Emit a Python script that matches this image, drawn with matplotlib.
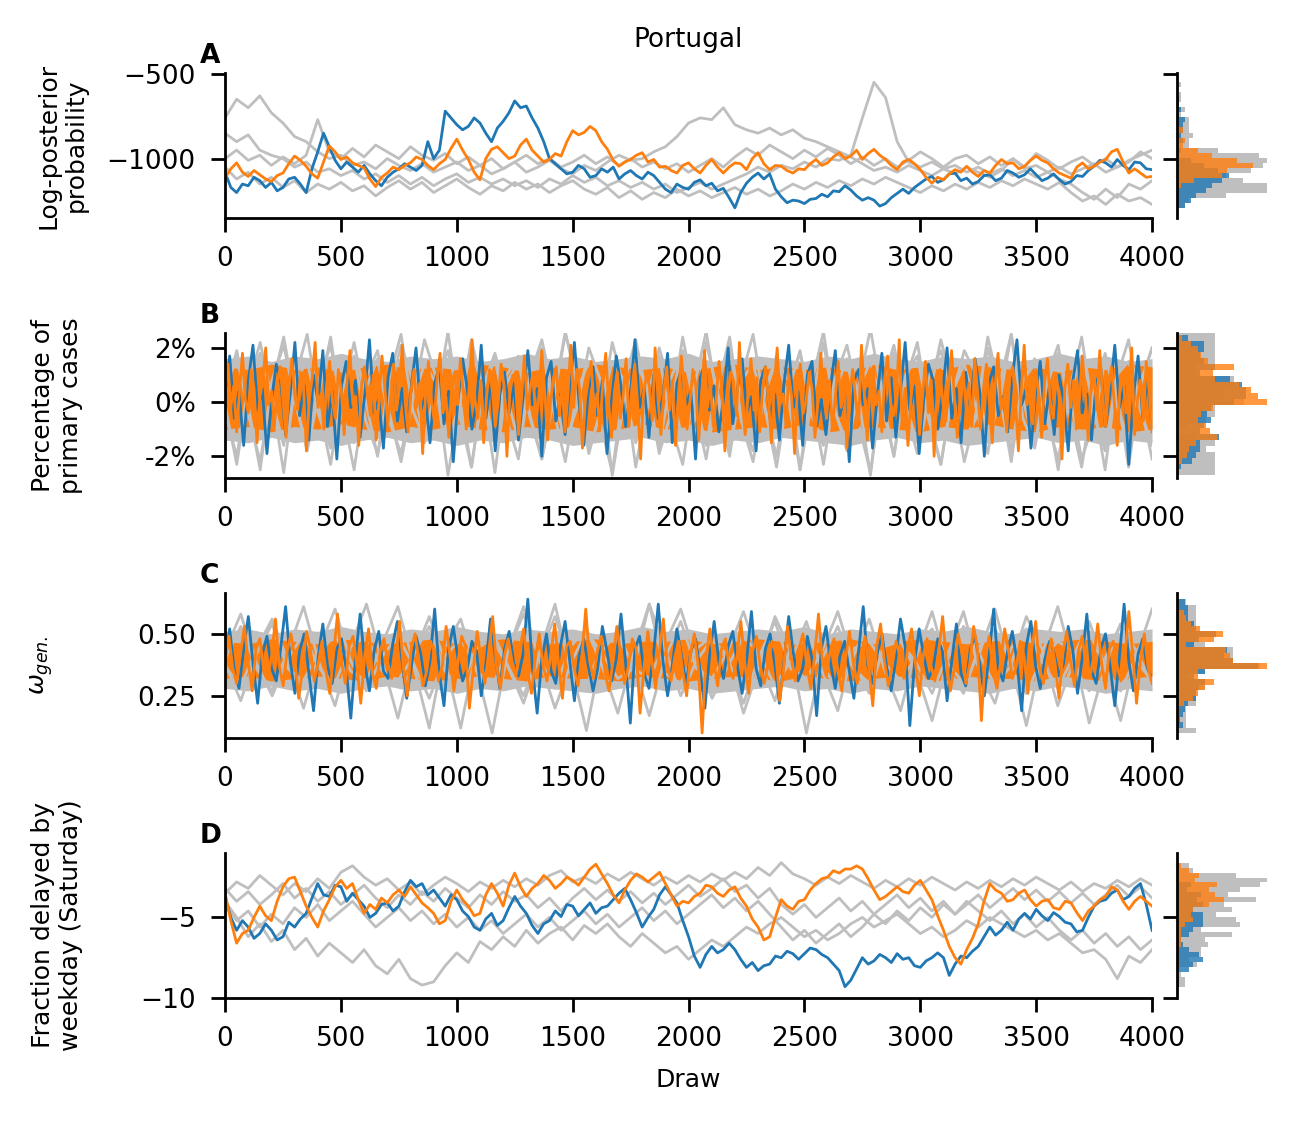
import matplotlib
matplotlib.use("Agg")
import matplotlib.pyplot as plt
import numpy as np

N_DRAWS = 4000
GREY = "#bfbfbf"

# ---- panel A: log-posterior probability ----
# grey chains read every 50 draws, highlighted chains every 25 draws
a_grey = [
    [-760, -650, -700, -630, -730, -790, -870, -900, -960, -1000,
     -980, -1040, -1020, -1060, -1000, -1040, -1070, -1030, -1080, -1050,
     -1020, -1070, -1040, -1090, -1060, -1020, -1080, -1050, -1010, -1060,
     -1090, -1040, -1070, -1020, -980, -1010, -1000, -960, -930, -870,
     -790, -760, -770, -700, -800, -830, -850, -820, -860, -830,
     -880, -900, -930, -960, -990, -1030, -1070, -1050, -1080, -1040,
     -1070, -1100, -1060, -1090, -1050, -1080, -1110, -1070, -1000, -1060,
     -1040, -1080, -1050, -1090, -1060, -1030, -1080, -1050, -1020, -960, -1000],
    [-850, -900, -860, -950, -980, -1000, -1050, -1020, -1080, -1060,
     -1100, -1070, -1120, -1090, -1140, -1100, -1150, -1110, -1160, -1120,
     -1090, -1140, -1110, -1150, -1120, -1160, -1130, -1170, -1120, -1150,
     -1100, -1140, -1110, -1160, -1130, -1170, -1140, -1180, -1150, -1200,
     -1170, -1140, -1180, -1150, -1120, -1090, -1050, -1080, -1040, -1060,
     -1020, -1050, -1000, -1010, -980, -760, -550, -640, -900, -1020,
     -1050, -1020, -1060, -1040, -1080, -1050, -1090, -1060, -1100, -1070,
     -1110, -1080, -1120, -1150, -1200, -1240, -1180, -1230, -1150, -1180, -1130],
    [-1000, -950, -1010, -980, -1040, -990, -1030, -980, -770, -960,
     -1000, -940, -990, -920, -960, -1000, -930, -980, -1010, -970,
     -1030, -990, -1040, -1000, -1060, -1020, -980, -1030, -1000, -1050,
     -1020, -980, -1030, -990, -1040, -1000, -1050, -1020, -1060, -1030,
     -1080, -1040, -1000, -1050, -990, -940, -980, -920, -960, -1000,
     -950, -990, -940, -980, -1030, -990, -1040, -1000, -1050, -1010,
     -960, -1000, -1050, -1000, -980, -1030, -990, -1040, -1000, -1050,
     -970, -1010, -1060, -1020, -990, -1040, -1000, -1050, -1010, -980, -950],
    [-1050, -1120, -1080, -1150, -1110, -1170, -1130, -1200, -1150, -1180,
     -1140, -1190, -1160, -1220, -1170, -1130, -1180, -1140, -1200, -1160,
     -1120, -1170, -1210, -1160, -1190, -1140, -1180, -1150, -1200, -1160,
     -1130, -1180, -1210, -1170, -1230, -1190, -1240, -1200, -1230, -1180,
     -1220, -1190, -1230, -1200, -1170, -1210, -1180, -1220, -1190, -1150,
     -1180, -1140, -1170, -1130, -1160, -1120, -1150, -1110, -1140, -1170,
     -1200, -1160, -1190, -1150, -1180, -1140, -1170, -1130, -1160, -1120,
     -1150, -1180, -1140, -1200, -1250, -1220, -1270, -1210, -1250, -1230, -1270],
]
a_blue = [
    -1080, -1170, -1200, -1150, -1160, -1110, -1130, -1170, -1140, -1190,
    -1170, -1120, -1110, -1150, -1200, -1060, -960, -850, -930, -1010,
    -1060, -1020, -1050, -1080, -1040, -1090, -1130, -1160, -1110, -1080,
    -1060, -1030, -1050, -1070, -1040, -900, -1000, -950, -720, -760,
    -800, -830, -810, -760, -790, -850, -900, -820, -780, -730,
    -660, -700, -690, -760, -820, -900, -1000, -1030, -1060, -1090,
    -1080, -1040, -1060, -1110, -1100, -1060, -1080, -1050, -1120, -1090,
    -1070, -1100, -1120, -1080, -1100, -1140, -1180, -1200, -1150, -1170,
    -1180, -1140, -1125, -1160, -1145, -1190, -1175, -1230, -1290, -1200,
    -1145, -1110, -1085, -1120, -1090, -1180, -1225, -1260, -1245, -1250,
    -1265, -1240, -1235, -1210, -1225, -1190, -1195, -1160, -1185, -1220,
    -1245, -1230, -1245, -1280, -1265, -1230, -1205, -1180, -1205, -1170,
    -1145, -1120, -1105, -1140, -1125, -1090, -1085, -1130, -1115, -1150,
    -1135, -1100, -1095, -1130, -1115, -1070, -1085, -1110, -1095, -1060,
    -1095, -1130, -1115, -1090, -1125, -1150, -1135, -1100, -1105, -1070,
    -1045, -1010, -1025, -1050, -1005, -1040, -1065, -1020, -1025, -1060,
    -1065,
]
a_orange = [
    -1115, -1060, -1025, -1080, -1105, -1070, -1095, -1120, -1135, -1100,
    -1085, -1030, -985, -1010, -1045, -1090, -1115, -1020, -925, -960,
    -1005, -990, -1025, -1040, -1055, -1120, -1165, -1110, -1085, -1050,
    -1065, -1040, -1025, -990, -1005, -1040, -1065, -1030, -1005, -940,
    -885, -950, -1005, -1080, -1125, -1000, -945, -930, -965, -1000,
    -985, -920, -885, -950, -985, -1020, -1005, -970, -985, -900,
    -835, -860, -845, -810, -835, -900, -945, -1010, -1045, -1020,
    -1005, -980, -965, -1020, -1005, -1050, -1045, -1070, -1085, -1040,
    -1025, -1060, -1085, -1040, -1005, -1050, -1085, -1050, -1025, -1030,
    -1065, -1000, -965, -1030, -1065, -1040, -1045, -1070, -1085, -1060,
    -1065, -1030, -1005, -1040, -1025, -990, -965, -1000, -985, -950,
    -1005, -970, -945, -980, -1005, -1040, -1065, -1020, -1005, -1030,
    -1065, -1110, -1145, -1110, -1125, -1090, -1065, -1080, -1045, -1080,
    -1105, -1070, -1085, -1040, -1005, -1030, -1025, -1060, -1045, -1010,
    -985, -1010, -1025, -1060, -1085, -1100, -1115, -1050, -1025, -1060,
    -1045, -1020, -1005, -960, -945, -1020, -1085, -1060, -1085, -1110,
    -1105,
]

# ---- panel B: percentage of primary cases (in tenths of a percent) ----
b_grey = [
    [3, 19, -5, -22, 6, 24, 0, -17, 8, 21, -3, -25, 5, 16, -7, -19, 2, 23, 9, -14,
     -1, 20, 4, -26, 7, 15, -6, -21, 1, 25, 10, -18, -4, 22, 5, -15, 3, 17, -8, -23,
     6, 26, 0, -20, 8, 14, -2, -24, 4, 19, -5, -16, 9, 21, 1, -27, 7, 18, -3, -19,
     2, 23, 6, -14, -6, 20, 3, -22, 8, 16, -1, -25, 5, 24, -4, -18, 10, 15, 0, -21],
    [-4, -20, 7, 22, 1, -16, 9, 25, -2, -23, 5, 17, -7, -19, 3, 21, 8, -15, 0, 26,
     -5, -24, 6, 18, 2, -14, 10, 20, -3, -22, 4, 15, -8, -26, 7, 23, 1, -17, 9, 19,
     -1, -21, 5, 24, -6, -18, 3, 16, 8, -25, 0, 22, -4, -15, 6, 27, 2, -20, 10, 17,
     -7, -23, 4, 14, -2, -19, 7, 25, 1, -16, 9, 21, -5, -24, 3, 18, -1, -14, 6, 20],
    [5, 16, -2, -25, 8, 21, 0, -18, 3, 24, -6, -15, 9, 19, -4, -22, 1, 14, 7, -27,
     -1, 23, 4, -16, 10, 17, -5, -21, 2, 26, 6, -19, -3, 15, 8, -24, 0, 20, 5, -14,
     -7, 22, 3, -17, 9, 25, -2, -20, 6, 18, 1, -23, 4, 16, -8, -26, 7, 21, -1, -15,
     10, 19, 2, -22, -4, 24, 5, -18, 8, 14, -6, -21, 3, 17, 0, -25, 9, 23, -3, -16],
    [-1, -23, 6, 18, 2, -26, 8, 15, -5, -17, 4, 22, 0, -20, 9, 25, -3, -14, 7, 19,
     1, -24, 5, 16, -6, -21, 10, 23, 3, -15, -2, 20, 8, -27, 0, 14, 6, -19, -4, 24,
     2, -16, 9, 21, -7, -22, 4, 17, 1, -25, 7, 26, -3, -18, 5, 15, -1, -20, 8, 22,
     -5, -23, 3, 19, 10, -14, 0, 25, -6, -17, 6, 18, 2, -21, -8, 16, 4, -24, 7, 20],
]
b_blue = [
    2, 17, -6, 4, -16, 8, 21, -3, 5, -19, 1, 14, 7, -12, 3, 22, -5, 6, -14, 10,
    0, 19, -9, 4, -21, 6, 15, -2, 8, -13, 3, 23, -4, 1, -17, 9, 18, -7, 5, -11,
    6, 20, -3, 2, -15, 7, 13, -8, 4, -22, 1, 16, 5, -10, 0, 21, -6, 8, -18, 3,
    11, -4, 7, -14, 2, 19, -1, 5, -20, 9, 15, -7, 3, -12, 6, 22, 0, -16, 4, 13,
    -5, 8, -19, 1, 17, 6, -9, 3, 23, -2, 5, -13, 10, -6, 2, 18, -15, 7, 12, -1,
    4, -21, 9, 14, -3, 6, -11, 1, 20, -8, 5, 16, -4, 2, -18, 8, 13, -6, 3, -14,
    7, 21, -2, 4, -16, 10, 15, -9, 1, -12, 6, 19, -5, 3, -22, 8, 12, -1, 5, -17,
    2, 18, -7, 9, -13, 4, 22, -3, 6, -19, 1, 14, 8, -10, 3, 20, -6, 5, -15, 11,
    -2, 16, 4, -20, 7, 13, -5, 2, -11, 9, 23, -1, 5, -17, 3, 15, -8, 6, -12, 10,
    1, -18, 8, 19, -4, 3, -14, 7, 12, -9, 4, 21, -2, 6, -23, 2, 17, -6, 9, -10,
]
b_orange = [
    3, 14, -2, 6, -11, 4, 18, 1, -4, 12, 5, -15, 2, 8, 20, -1, 4, -9, 7, 13,
    0, -13, 5, 16, 2, -3, 11, 6, -18, 1, 9, 22, -2, 3, -10, 7, 15, 0, -6, 12,
    4, -12, 8, 19, -1, 2, -16, 6, 13, 3, -5, 10, -14, 1, 17, 5, -8, 2, 14, -3,
    6, 21, 0, -11, 4, 12, -2, 7, -19, 3, 15, 1, -7, 9, 18, -4, 2, -13, 6, 11,
    -1, 16, 3, -10, 5, 23, 1, -6, 8, -15, 2, 12, 4, -9, 0, 14, 6, -20, 3, 10,
    7, -12, 1, 17, -3, 5, 11, -8, 2, 19, 4, -14, 0, 9, 13, -5, 6, -11, 3, 21,
    -2, 12, 5, -17, 1, 8, 15, -4, 3, -10, 7, 18, 0, -13, 4, 11, -6, 2, 16, -9,
    5, 14, -1, -21, 3, 10, 6, -7, 20, 1, -12, 4, 13, -3, 8, -16, 2, 17, 5, -10,
    0, 12, 6, -14, 3, 19, -2, 7, -9, 1, 15, 4, -18, 2, 11, 8, -5, 22, 0, -12,
    4, 16, -3, 9, -11, 5, 13, 1, -15, 6, 20, -1, 3, -8, 10, 2, -19, 7, 14, -4,
    1, 11, 5, -13, 0, 18, 3, -6, 8, -10, 2, 15, -2, 6, -17, 4, 12, 1, -9, 21,
    3, -14, 7, 13, -1, 4, -11, 9, 17, 0, -5, 2, 23, -8, 5, -16, 1, 10, 6, -12,
    2, 15, -4, 8, -20, 3, 12, 0, -7, 6, 19, 1, -13, 4, 11, -2, 7, -9, 16, 3,
    -10, 5, 14, 0, -15, 6, 18, -3, 2, -11, 9, 13, 1, -18, 4, 21, -1, 5, -8, 12,
    3, -13, 7, 16, 0, -6, 10, 2, -21, 5, 14, -2, 8, -10, 1, 17, 4, -14, 6, 11,
    -3, 19, 2, -9, 5, 13, 0, -16, 7, 10, -4, 3, 20, -12, 1, 8, -7, 15, 4, -11,
]
# dense (solid-looking) part of the traces, read every 100 draws
b_orange_core_upper = [13, 12, 14, 12, 13, 11, 13, 14, 12, 13, 12, 14, 13, 11, 13, 12, 14, 13, 12, 13, 11,
                       13, 14, 12, 13, 12, 13, 11, 14, 12, 13, 12, 14, 13, 12, 13, 11, 13, 12, 14, 13]
b_orange_core_lower = [-10, -9, -11, -9, -10, -8, -10, -11, -9, -10, -8, -10, -11, -9, -10, -9, -11, -10, -8, -10, -9,
                       -11, -10, -9, -10, -8, -11, -10, -9, -10, -11, -9, -10, -8, -10, -11, -9, -10, -9, -11, -10]
b_grey_core_upper = [16, 17, 15, 17, 16, 18, 16, 15, 17, 16, 17, 15, 16, 18, 16, 17, 15, 16, 17, 16, 18,
                     15, 16, 17, 16, 15, 17, 16, 18, 16, 15, 17, 16, 17, 15, 16, 18, 16, 17, 15, 16]
b_grey_core_lower = [-14, -15, -13, -15, -14, -16, -14, -13, -15, -14, -16, -14, -15, -13, -14, -16, -15, -14, -13, -15, -14,
                     -16, -14, -15, -13, -14, -15, -16, -14, -13, -15, -14, -16, -15, -14, -13, -15, -14, -16, -14, -15]

# ---- panel C: omega_gen (in hundredths) ----
c_grey = [
    [40, 53, 36, 27, 43, 61, 38, 21, 45, 49, 35, 31, 41, 57, 39, 12, 44, 51, 37, 25,
     42, 62, 34, 29, 46, 48, 38, 17, 40, 55, 36, 32, 43, 59, 39, 23, 45, 50, 37, 28,
     41, 56, 35, 19, 44, 52, 38, 30, 42, 60, 36, 26, 40, 47, 43, 14, 37, 54, 39, 31],
    [37, 29, 44, 56, 39, 20, 42, 50, 35, 31, 46, 61, 38, 24, 41, 48, 36, 10, 43, 58,
     40, 28, 45, 52, 37, 18, 42, 62, 34, 30, 44, 49, 39, 22, 41, 55, 36, 32, 43, 59,
     38, 26, 46, 47, 35, 15, 40, 53, 42, 29, 37, 57, 44, 21, 39, 51, 36, 27, 41, 60],
    [43, 58, 38, 25, 40, 50, 36, 30, 45, 62, 39, 16, 42, 53, 35, 28, 44, 48, 37, 22,
     41, 57, 38, 11, 43, 51, 36, 32, 46, 60, 40, 24, 37, 49, 42, 29, 39, 55, 35, 19,
     44, 47, 38, 31, 41, 59, 36, 26, 45, 52, 39, 13, 42, 61, 37, 27, 40, 54, 43, 30],
    [38, 23, 42, 54, 36, 31, 44, 60, 39, 27, 41, 49, 37, 12, 45, 56, 35, 29, 43, 61,
     40, 20, 38, 51, 42, 32, 36, 62, 44, 25, 39, 48, 41, 18, 37, 57, 43, 10, 40, 53,
     36, 30, 45, 47, 38, 26, 42, 59, 35, 22, 44, 52, 39, 28, 41, 55, 37, 15, 43, 50],
]
c_blue = [
    40, 52, 35, 28, 44, 57, 38, 22, 42, 49, 36, 31, 45, 61, 39, 26, 43, 50, 34, 19,
    41, 54, 37, 30, 44, 48, 36, 16, 40, 58, 38, 27, 43, 51, 35, 32, 46, 55, 39, 24,
    37, 49, 42, 29, 39, 60, 34, 21, 44, 53, 40, 31, 36, 47, 43, 25, 38, 56, 41, 28,
    44, 51, 38, 33, 42, 64, 36, 18, 40, 50, 35, 30, 45, 55, 39, 23, 41, 48, 37, 27,
    36, 53, 43, 31, 40, 58, 38, 14, 44, 49, 34, 28, 42, 62, 39, 25, 37, 52, 41, 30,
    43, 48, 35, 20, 41, 55, 39, 32, 45, 51, 37, 26, 40, 59, 36, 29, 44, 50, 38, 22,
    39, 57, 42, 31, 36, 49, 40, 17, 44, 53, 38, 28, 41, 47, 35, 24, 43, 61, 37, 30,
    42, 50, 37, 27, 40, 56, 45, 13, 38, 52, 41, 32, 36, 48, 43, 23, 39, 54, 34, 29,
    44, 49, 38, 25, 41, 60, 36, 31, 43, 51, 39, 19, 45, 55, 37, 28, 40, 47, 42, 33,
    38, 53, 43, 26, 40, 58, 35, 30, 44, 50, 37, 21, 41, 62, 39, 27, 42, 48, 36, 32,
]
c_orange = [
    39, 49, 36, 30, 42, 53, 38, 27, 44, 48, 35, 32, 41, 56, 37, 29, 43, 50, 40, 24,
    36, 51, 44, 31, 38, 47, 35, 26, 42, 58, 39, 30, 45, 49, 37, 22, 41, 52, 34, 28,
    43, 48, 38, 32, 40, 55, 36, 25, 44, 50, 39, 29, 35, 47, 42, 31, 37, 53, 41, 27,
    38, 49, 45, 20, 36, 51, 40, 30, 43, 57, 37, 28, 41, 48, 39, 33, 44, 52, 35, 26,
    40, 50, 37, 31, 42, 54, 38, 24, 45, 47, 36, 29, 41, 60, 39, 32, 43, 49, 34, 27,
    39, 53, 42, 30, 37, 48, 44, 18, 36, 51, 40, 28, 43, 56, 38, 31, 41, 47, 35, 25,
    42, 50, 37, 10, 40, 52, 39, 29, 44, 48, 36, 32, 41, 55, 38, 26, 43, 49, 37, 30,
    38, 47, 42, 23, 36, 53, 40, 31, 44, 50, 37, 28, 41, 58, 39, 33, 43, 48, 35, 27,
    40, 51, 38, 30, 42, 49, 36, 21, 45, 54, 39, 29, 37, 47, 41, 32, 44, 52, 38, 25,
    41, 48, 37, 31, 43, 57, 39, 27, 36, 50, 42, 30, 38, 53, 44, 15, 40, 49, 35, 28,
    39, 52, 43, 32, 37, 47, 41, 26, 44, 55, 36, 30, 40, 48, 38, 24, 42, 51, 39, 29,
    43, 49, 36, 33, 41, 54, 38, 28, 44, 47, 37, 31, 40, 59, 42, 22, 39, 50, 36, 30,
]
c_orange_core_upper = [47, 46, 48, 47, 46, 48, 47, 46, 47, 48, 46, 47, 48, 47, 46, 47, 48, 46, 47, 47, 48,
                       46, 47, 48, 47, 46, 47, 48, 46, 47, 48, 47, 46, 47, 48, 46, 47, 48, 47, 46, 47]
c_orange_core_lower = [32, 33, 31, 32, 33, 32, 31, 33, 32, 31, 32, 33, 32, 31, 33, 32, 32, 31, 33, 32, 31,
                       32, 33, 32, 31, 33, 32, 31, 32, 33, 32, 31, 33, 32, 32, 31, 33, 32, 31, 32, 33]
c_grey_core_upper = [51, 52, 50, 52, 51, 53, 51, 50, 52, 51, 53, 51, 50, 52, 51, 52, 50, 51, 53, 51, 52,
                     50, 51, 52, 51, 53, 50, 52, 51, 50, 52, 51, 53, 51, 50, 52, 51, 52, 50, 51, 52]
c_grey_core_lower = [28, 27, 29, 27, 28, 26, 28, 29, 27, 28, 26, 28, 27, 29, 28, 27, 26, 28, 29, 27, 28,
                     26, 27, 28, 29, 27, 28, 26, 28, 27, 29, 28, 27, 26, 28, 27, 29, 28, 26, 28, 27]

# ---- panel D: fraction delayed by weekday (Saturday) ----
d_grey = [
    [-4.0, -5.0, -6.2, -5.4, -6.5, -5.8, -7.0, -6.3, -7.4, -6.6,
     -7.2, -7.8, -7.0, -8.0, -8.5, -7.6, -8.8, -9.2, -9.0, -8.0,
     -7.2, -7.8, -6.5, -7.0, -6.2, -6.8, -5.8, -6.6, -6.0, -5.6,
     -6.4, -5.5, -6.0, -5.4, -6.2, -6.8, -6.0, -6.6, -7.2, -6.8,
     -7.6, -7.0, -6.4, -6.8, -6.2, -5.6, -6.0, -5.4, -5.0, -5.6,
     -6.2, -5.8, -6.4, -6.0, -5.4, -5.0, -5.6, -5.2, -4.8, -5.4,
     -6.0, -5.6, -6.2, -5.8, -5.2, -5.6, -5.0, -5.4, -5.8, -6.2,
     -5.8, -6.4, -6.0, -6.6, -7.2, -7.0, -7.6, -8.8, -7.4, -7.8, -7.0],
    [-3.5, -2.8, -3.2, -2.4, -3.0, -3.6, -2.9, -3.4, -2.6, -3.2,
     -2.2, -1.8, -2.5, -3.0, -2.6, -3.3, -2.8, -3.6, -3.0, -2.5,
     -2.9, -3.4, -2.8, -3.2, -2.7, -3.1, -2.6, -3.0, -2.4, -2.1,
     -2.8, -2.5, -2.9, -2.3, -2.7, -2.2, -2.6, -3.0, -2.5, -2.9,
     -2.4, -2.8, -2.3, -2.7, -2.2, -2.6, -1.9, -2.4, -1.6, -2.3,
     -2.6, -3.0, -2.5, -2.9, -2.4, -2.8, -3.2, -2.7, -3.1, -2.6,
     -3.0, -2.5, -2.9, -3.3, -2.8, -3.2, -2.7, -3.1, -2.6, -3.0,
     -2.5, -2.9, -3.3, -2.8, -3.4, -2.9, -3.2, -2.7, -3.1, -2.6, -3.0],
    [-4.2, -5.2, -4.6, -5.6, -4.8, -5.4, -4.4, -5.0, -4.2, -5.2,
     -4.6, -4.0, -4.8, -5.6, -5.0, -4.4, -5.2, -4.6, -5.4, -4.8,
     -5.6, -5.0, -5.8, -5.2, -6.0, -5.4, -4.8, -5.6, -5.0, -5.8,
     -5.2, -4.6, -5.4, -4.8, -5.6, -5.0, -4.4, -5.2, -4.6, -5.4,
     -4.8, -4.2, -3.6, -4.4, -3.8, -4.6, -4.0, -4.8, -5.6, -6.4,
     -5.8, -6.6, -6.0, -5.4, -6.2, -5.6, -4.8, -5.4, -4.6, -5.2,
     -4.4, -5.0, -4.2, -4.8, -4.0, -4.6, -5.2, -4.6, -5.4, -4.8,
     -5.6, -5.0, -5.8, -6.4, -5.8, -6.6, -6.0, -6.8, -6.2, -7.0, -6.4],
    [-3.2, -4.0, -3.4, -4.2, -3.6, -2.9, -3.8, -3.2, -4.0, -3.4,
     -4.2, -3.6, -3.0, -3.8, -4.4, -3.6, -4.2, -3.4, -4.0, -3.2,
     -3.8, -4.4, -3.6, -4.2, -3.4, -4.0, -3.6, -4.4, -3.8, -4.6,
     -3.8, -3.2, -3.9, -3.3, -4.0, -3.4, -4.1, -3.5, -4.2, -3.6,
     -3.0, -3.7, -3.2, -2.6, -3.4, -3.0, -3.8, -3.2, -4.2, -4.8,
     -4.2, -5.0, -4.4, -3.8, -4.6, -4.0, -4.8, -4.2, -3.6, -4.4,
     -3.8, -4.6, -4.0, -4.8, -4.2, -3.6, -4.4, -3.8, -3.2, -3.9,
     -3.3, -4.0, -3.4, -4.1, -3.5, -4.2, -3.6, -3.0, -3.7, -3.1, -3.8],
]
d_blue = [
    -3.7, -5.0, -5.8, -5.2, -5.6, -6.3, -6.0, -5.4, -5.8, -6.4,
    -6.2, -5.3, -5.6, -5.1, -4.75, -3.8, -2.9, -3.6, -3.7, -3.0,
    -3.1, -4.0, -3.5, -3.9, -4.3, -5.0, -4.75, -4.2, -4.1, -4.6,
    -4.3, -3.4, -2.7, -3.1, -2.9, -3.6, -3.3, -3.8, -4.3, -3.6,
    -3.9, -4.6, -4.95, -5.6, -5.8, -5.1, -4.75, -5.5, -5.2, -4.4,
    -3.7, -4.3, -4.75, -5.5, -6.0, -5.4, -5.2, -4.6, -4.95, -4.2,
    -4.3, -4.9, -4.5, -4.1, -4.75, -4.4, -4.3, -3.9, -3.5, -3.2,
    -3.9, -4.7, -5.6, -5.0, -4.5, -3.6, -3.1, -3.6, -4.1, -5.2,
    -6.2, -7.4, -8.1, -7.3, -6.8, -7.2, -7.0, -6.6, -7.0, -7.6,
    -8.1, -7.8, -8.3, -8.0, -7.9, -7.4, -7.5, -7.1, -7.25, -7.6,
    -7.25, -6.9, -7.0, -7.3, -7.5, -7.9, -8.3, -9.3, -8.9, -8.2,
    -7.5, -7.9, -7.7, -7.3, -7.5, -7.8, -7.25, -7.6, -7.5, -8.0,
    -8.1, -7.7, -7.5, -7.2, -7.5, -8.6, -7.9, -7.4, -7.5, -7.1,
    -6.8, -6.2, -5.6, -6.1, -5.8, -5.3, -5.8, -5.1, -4.75, -5.1,
    -4.5, -4.9, -5.2, -4.7, -4.95, -5.3, -5.4, -5.9, -5.8, -5.0,
    -4.3, -4.0, -3.9, -3.5, -3.3, -3.9, -3.7, -3.2, -2.9, -4.2,
    -5.8,
]
d_orange = [
    -3.5, -5.2, -6.6, -6.0, -5.8, -5.0, -4.3, -4.9, -5.2, -4.0,
    -3.1, -2.6, -2.5, -3.4, -4.3, -5.0, -5.6, -4.6, -3.9, -3.1,
    -2.7, -3.2, -2.9, -3.9, -4.75, -4.2, -4.5, -3.8, -4.1, -3.6,
    -3.3, -3.7, -3.1, -3.6, -4.1, -4.4, -4.75, -5.4, -5.2, -4.0,
    -3.3, -3.9, -4.3, -4.9, -4.75, -3.6, -2.9, -3.5, -4.3, -3.0,
    -2.25, -3.1, -3.7, -3.2, -2.9, -2.4, -2.7, -3.2, -2.9, -2.5,
    -2.7, -3.0, -2.5, -2.0, -1.7, -2.3, -2.9, -3.6, -4.1, -3.3,
    -2.7, -2.3, -2.5, -2.8, -2.5, -2.2, -2.9, -3.6, -4.3, -4.0,
    -4.1, -3.7, -3.5, -3.0, -3.1, -3.5, -3.7, -3.3, -3.1, -3.8,
    -4.3, -5.1, -5.6, -6.4, -6.2, -5.0, -3.9, -4.3, -4.5, -4.0,
    -3.9, -3.3, -2.9, -2.6, -2.5, -2.1, -2.25, -2.0, -2.0, -1.8,
    -2.0, -2.6, -3.3, -3.9, -3.7, -3.4, -3.1, -3.4, -3.5, -3.0,
    -2.7, -3.3, -3.9, -4.9, -5.8, -6.8, -7.5, -7.9, -7.0, -6.3,
    -5.4, -4.0, -2.9, -3.3, -3.5, -4.0, -3.9, -3.5, -3.3, -3.9,
    -4.3, -4.0, -3.9, -4.4, -4.5, -4.0, -4.1, -4.7, -5.2, -4.6,
    -4.3, -3.9, -3.7, -3.1, -3.3, -4.0, -4.5, -4.0, -3.7, -4.0,
    -4.3,
]

plt.rcParams.update({
    "font.family": "DejaVu Sans",
    "font.size": 9,
    "xtick.labelsize": 9.5,
    "ytick.labelsize": 9.5,
    "axes.linewidth": 1.0,
    "xtick.major.size": 5,
    "ytick.major.size": 5,
    "xtick.major.width": 1.0,
    "ytick.major.width": 1.0,
    "xtick.major.pad": 5,
    "ytick.major.pad": 5.5,
})


def scaled(chain, k):
    return np.asarray(chain, dtype=float) * k


def draws(values):
    return np.linspace(0, N_DRAWS, len(values))


panels = [
    ("A", "Log-posterior\nprobability", a_grey, a_blue, a_orange, None, None, 1.0,
     (-1350, -495), [-1000, -500], None, -0.148),
    ("B", "Percentage of\nprimary cases", b_grey, b_blue, b_orange,
     (b_grey_core_lower, b_grey_core_upper), (b_orange_core_lower, b_orange_core_upper), 0.1,
     (-2.8, 2.55), [-2, 0, 2], ["-2%", "0%", "2%"], -0.153),
    ("C", r"$\omega_{gen.}$", c_grey, c_blue, c_orange,
     (c_grey_core_lower, c_grey_core_upper), (c_orange_core_lower, c_orange_core_upper), 0.01,
     (0.08, 0.665), [0.25, 0.5], ["0.25", "0.50"], -0.183),
    ("D", "Fraction delayed by\nweekday (Saturday)", d_grey, d_blue, d_orange, None, None, 1.0,
     (-10, -1.0), [-10, -5], None, -0.153),
]
bottoms = [0.8064, 0.5755, 0.3446, 0.1137]

fig = plt.figure(figsize=(6.5, 5.63), dpi=200)

for (letter, ylabel, greys, blue, orange, grey_core, orange_core, k,
     ylim, yticks, yticklabels, lab_x), bottom in zip(panels, bottoms):
    ax = fig.add_axes([0.1731, bottom, 0.7131, 0.1288])
    axh = fig.add_axes([0.9054, bottom, 0.0869, 0.1288])

    greys = [scaled(g, k) for g in greys]
    blue = scaled(blue, k)
    orange = scaled(orange, k)

    if grey_core is not None:
        lo, hi = scaled(grey_core[0], k), scaled(grey_core[1], k)
        ax.fill_between(draws(lo), lo, hi, color=GREY, lw=0)
    for g in greys:
        ax.plot(draws(g), g, color=GREY, lw=1.0)
    ax.plot(draws(blue), blue, color="C0", lw=1.0)
    if orange_core is not None:
        lo, hi = scaled(orange_core[0], k), scaled(orange_core[1], k)
        ax.fill_between(draws(lo), lo, hi, color="C1", lw=0)
    ax.plot(draws(orange), orange, color="C1", lw=1.0)

    ax.set_xlim(0, N_DRAWS)
    ax.set_ylim(*ylim)
    ax.set_xticks(np.arange(0, 4001, 500))
    ax.set_yticks(yticks)
    if yticklabels is not None:
        ax.set_yticklabels(yticklabels)
    ax.spines[["top", "right"]].set_visible(False)
    ax.set_ylabel(ylabel)
    ax.yaxis.set_label_coords(lab_x, 0.5)
    ax.text(-0.027, 1.03, letter, transform=ax.transAxes, fontsize=9.5,
            fontweight="bold", ha="left", va="bottom")

    # marginal histograms, one per chain: grey ones first, highlighted on top
    everything = np.concatenate(greys + [blue, orange])
    bins = np.histogram_bin_edges(everything, 25)
    heights = []
    for g in greys:
        n, _, _ = axh.hist(g, bins=bins, orientation="horizontal",
                           density=True, color=GREY)
        heights.append(n.max())
    n, _, _ = axh.hist(blue, bins=bins, orientation="horizontal",
                       density=True, color="C0", alpha=0.8)
    heights.append(n.max())
    n, _, _ = axh.hist(orange, bins=bins, orientation="horizontal",
                       density=True, color="C1", alpha=0.8)
    heights.append(n.max())
    axh.set_xlim(0, max(heights) * 1.25)
    axh.set_ylim(*ylim)
    axh.set_yticks(yticks)
    axh.tick_params(axis="y", labelleft=False)
    axh.xaxis.set_visible(False)
    axh.spines[["top", "right", "bottom"]].set_visible(False)
    axh.patch.set_visible(False)

    if letter == "A":
        fig.text(688 / 1300, 1 - 40 / 1126, "Portugal", ha="center", va="center",
                 fontsize=9.5)
    if letter == "D":
        ax.set_xlabel("Draw", labelpad=6)

fig.savefig("out.png", dpi=200)
